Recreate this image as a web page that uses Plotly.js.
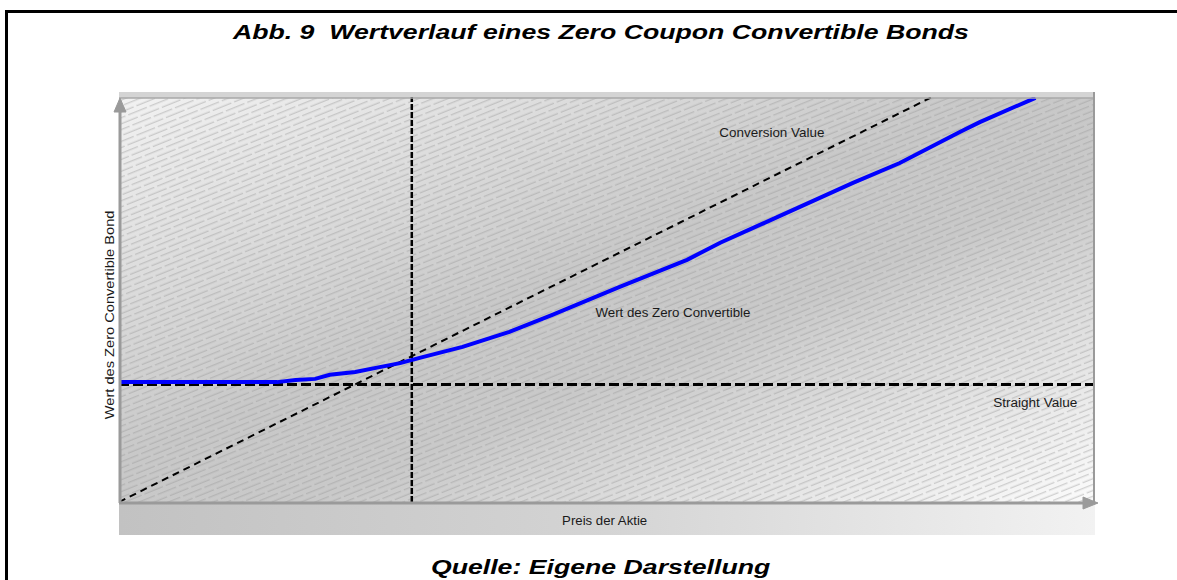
<!DOCTYPE html>
<html>
<head>
<meta charset="utf-8">
<script src="https://cdn.plot.ly/plotly-3.0.1.min.js"></script>
<style>
html,body{margin:0;padding:0;background:#fff;overflow:hidden;width:1177px;height:580px;}
#wrap{position:relative;width:1177px;height:580px;overflow:hidden;}
#chart{position:absolute;left:0;top:0;width:1177px;height:580px;}
#frame{position:absolute;left:5px;top:10px;width:1300px;height:700px;border-top:3px solid #000;border-left:3px solid #000;pointer-events:none;}
</style>
</head>
<body>
<div id="wrap"><div id="chart"></div><div id="frame"></div></div>
<script>
// ---- data (axis units 0..100) ----
const bondPriceX = [0, 16.2, 18.1, 20.1, 21.6, 24.2, 26.7, 28.8, 30.8, 35.2, 40.0, 44.4, 51.3, 58.2, 61.6, 68.0, 70.5, 75.2, 80.0, 84.1, 86.2, 88.2, 91.6, 93.9];
const bondValue  = [29.6, 29.6, 30.1, 30.4, 31.4, 32.1, 33.3, 34.3, 35.6, 38.3, 42.0, 46.2, 53.1, 59.8, 64.0, 70.9, 73.8, 78.8, 83.7, 88.9, 91.4, 93.8, 97.5, 99.8];
const conversionX = [0, 83.3];
const conversionY = [0, 100];
const straightX = [0, 100];
const straightY = [29, 29];
const strikeX = [30, 30];
const strikeY = [0, 100];

const titleText = "Abb. 9  Wertverlauf eines Zero Coupon Convertible Bonds";
const sourceText = "Quelle: Eigene Darstellung";
const xTitle = "Preis der Aktie";
const yTitle = "Wert des Zero Convertible Bond";
const labelConversion = "Conversion Value";
const labelBond = "Wert des Zero Convertible";
const labelStraight = "Straight Value";

// ---- layout geometry (pixels) ----
const W = 1177, H = 580;
const L = 119, R = 1095, T = 97, B = 502;
const pw = R - L, ph = B - T;
const px = v => (v - L) / pw;        // pixel x -> paper x
const py = v => (B - v) / ph;        // pixel y -> paper y

const FONT = "Liberation Sans, Arial, Helvetica, sans-serif";

// background (gradient + hatch) as inline svg
const bgW = 980, bgH = 445;
const svg = `<svg xmlns="http://www.w3.org/2000/svg" width="${bgW}" height="${bgH}" viewBox="0 0 ${bgW} ${bgH}">
<defs>
<linearGradient id="g" x1="0" y1="0" x2="1" y2="1">
<stop offset="0" stop-color="#f2f2f2"/><stop offset="0.45" stop-color="#c8c8c8"/><stop offset="0.6" stop-color="#c9c9c9"/><stop offset="1" stop-color="#fbfbfb"/>
</linearGradient>
<linearGradient id="b" x1="0" y1="0" x2="1" y2="0">
<stop offset="0" stop-color="#c2c2c2"/><stop offset="0.5" stop-color="#d4d4d4"/><stop offset="1" stop-color="#f2f2f2"/>
</linearGradient>
<pattern id="h" width="23" height="11" patternUnits="userSpaceOnUse" patternTransform="rotate(-22)">
<line x1="0" y1="2.75" x2="23" y2="2.75" stroke="#969696" stroke-width="0.55" stroke-dasharray="20 3"/>
<line x1="0" y1="8.25" x2="23" y2="8.25" stroke="#969696" stroke-width="0.55" stroke-dasharray="8 3 12 0"/>
</pattern>
</defs>
<rect x="0" y="6" width="${pw}" height="${ph-1}" fill="url(#g)"/>
<rect x="0" y="6" width="${pw}" height="${ph-1}" fill="url(#h)"/>
<rect x="0" y="0" width="${pw}" height="6" fill="#d4d4d4"/>
<rect x="0" y="412" width="${pw}" height="31" fill="url(#b)"/>
</svg>`;
const svgURI = "data:image/svg+xml;charset=utf-8," + encodeURIComponent(svg);

const traces = [
  {x: straightX, y: straightY, mode: "lines", line: {color: "#000", width: 3, dash: "10px,4px"}, hoverinfo: "skip"},
  {x: strikeX, y: strikeY, mode: "lines", line: {color: "#000", width: 2.5, dash: "6px,2px"}, hoverinfo: "skip"},
  {x: conversionX, y: conversionY, mode: "lines", line: {color: "#000", width: 2, dash: "7px,5px"}, hoverinfo: "skip"},
  {x: bondPriceX, y: bondValue, mode: "lines", line: {color: "#0000ff", width: 4}, hoverinfo: "skip"}
];

const gray = "#9a9a9a";
const shapes = [
  // top edge line
  {type: "line", xref: "paper", yref: "paper", x0: px(119), x1: px(1095), y0: py(98), y1: py(98), line: {color: "#a8a8a8", width: 1.5}},
  // right border
  {type: "line", xref: "paper", yref: "paper", x0: px(1094), x1: px(1094), y0: py(92), y1: py(502), line: {color: gray, width: 2}},
  // y axis
  {type: "line", xref: "paper", yref: "paper", x0: px(120), x1: px(120), y0: py(503), y1: py(108), line: {color: gray, width: 3}},
  {type: "path", xref: "paper", yref: "paper", path: `M ${px(114)} ${py(112)} L ${px(120)} ${py(98)} L ${px(126)} ${py(112)} Z`, fillcolor: gray, line: {color: gray, width: 1}},
  // x axis
  {type: "line", xref: "paper", yref: "paper", x0: px(119), x1: px(1086), y0: py(503), y1: py(503), line: {color: gray, width: 3}},
  {type: "path", xref: "paper", yref: "paper", path: `M ${px(1083)} ${py(497)} L ${px(1098)} ${py(503)} L ${px(1083)} ${py(509)} Z`, fillcolor: gray, line: {color: gray, width: 1}}
];

const txt = {family: FONT, size: 12, color: "#1a1a1a"};
const big = {family: FONT, size: 21, color: "#000"};
const annotations = [
  {xref: "paper", yref: "paper", x: px(600), y: py(32), text: "<b><i>" + titleText + "</i></b>", showarrow: false, font: big, xanchor: "center", yanchor: "middle"},
  {xref: "paper", yref: "paper", x: px(600), y: py(566), text: "<b><i>" + sourceText + "</i></b>", showarrow: false, font: big, xanchor: "center", yanchor: "middle"},
  {xref: "paper", yref: "paper", x: px(605), y: py(521), text: xTitle, showarrow: false, font: txt, xanchor: "center", yanchor: "middle"},
  {xref: "paper", yref: "paper", x: px(110), y: py(403), text: yTitle, showarrow: false, font: txt, textangle: -90, xanchor: "center", yanchor: "bottom"},
  {xref: "paper", yref: "paper", x: px(772), y: py(133), text: labelConversion, showarrow: false, font: txt, xanchor: "center", yanchor: "middle"},
  {xref: "paper", yref: "paper", x: px(673), y: py(313), text: labelBond, showarrow: false, font: txt, xanchor: "center", yanchor: "middle"},
  {xref: "paper", yref: "paper", x: px(1035), y: py(403), text: labelStraight, showarrow: false, font: txt, xanchor: "center", yanchor: "middle"}
];
// horizontal stretch of each annotation's glyphs (the reference text is drawn wider than plain Arial)
const stretch = [1.27, 1.27, 1.1, 1.22, 1.12, 1.11, 1.13];

const layout = {
  width: W, height: H,
  margin: {l: L, r: W - R, t: T, b: H - B, pad: 0},
  paper_bgcolor: "#fff", plot_bgcolor: "rgba(0,0,0,0)",
  showlegend: false,
  xaxis: {range: [0, 100], visible: false, fixedrange: true},
  yaxis: {range: [0, 100], visible: false, fixedrange: true},
  images: [{source: svgURI, xref: "paper", yref: "paper", x: 0, y: py(92), sizex: bgW / pw, sizey: bgH / ph, xanchor: "left", yanchor: "top", sizing: "stretch", layer: "below"}],
  shapes: shapes,
  annotations: annotations
};

const gd = document.getElementById("chart");
Plotly.newPlot(gd, traces, layout, {staticPlot: true, displayModeBar: false}).then(() => {
  gd.querySelectorAll("g.annotation").forEach(g => {
    const i = +g.getAttribute("data-index");
    const t = g.querySelector("text.annotation-text");
    if (!t || !stretch[i]) return;
    const bb = t.getBBox();
    const cx = bb.x + bb.width / 2;
    t.setAttribute("transform", `translate(${cx} 0) scale(${stretch[i]} 1) translate(${-cx} 0)`);
  });
});
</script>
</body>
</html>
